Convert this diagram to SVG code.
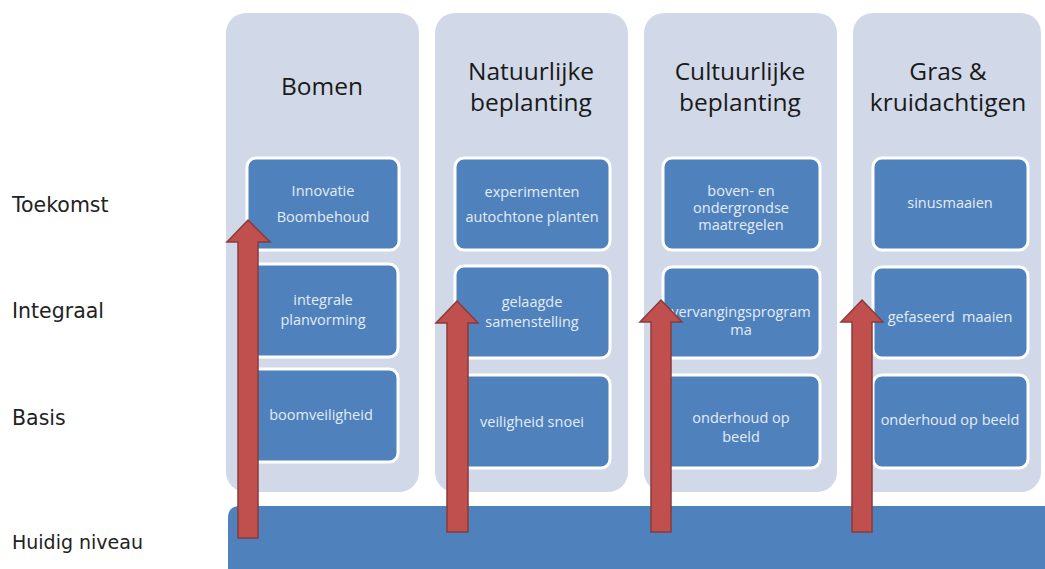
<svg xmlns="http://www.w3.org/2000/svg" width="1045" height="569" viewBox="0 0 1045 569">
<style>
.col{fill:#D1D9E8}
.box{fill:#4F81BD;stroke:#FFFFFF;stroke-width:3}
.hdr{font-family:"Open Sans","Liberation Sans",sans-serif;font-size:24.5px;fill:#1A1A1A;text-anchor:middle}
.bt{font-family:"Open Sans","Liberation Sans",sans-serif;font-size:14.5px;fill:#E4ECF6;text-anchor:middle}
.lbl{font-family:"DejaVu Sans","Liberation Sans",sans-serif;font-size:20.5px;fill:#222222}
.arr{fill:#C0504D;stroke:#8C3A38;stroke-width:1.5;stroke-linejoin:miter}
</style>
<rect width="1045" height="569" fill="#FFFFFF"/>
<g id="labels">
<text class="lbl" x="12" y="212">Toekomst</text>
<text class="lbl" x="12" y="318">Integraal</text>
<text class="lbl" x="12" y="425">Basis</text>
<text class="lbl" x="12" y="549" style="font-size:19px">Huidig niveau</text>
</g>
<g id="base">
<path d="M228,569 V518 Q228,506 240,506 H1045 V569 Z" fill="#4F81BD"/>
</g>
<g id="col-bomen">
<rect class="col" x="226" y="13" width="193" height="479" rx="20"/>
<text class="hdr" x="322" y="95">Bomen</text>
<g id="bomen-toekomst"><rect class="box" x="247" y="158" width="152" height="92" rx="9"/>
<text class="bt" x="323" y="196">Innovatie</text><text class="bt" x="323" y="222">Boombehoud</text></g>
<g id="bomen-integraal"><rect class="box" x="247" y="264" width="151" height="93" rx="9"/>
<text class="bt" x="323" y="305">integrale</text><text class="bt" x="323" y="325">planvorming</text></g>
<g id="bomen-basis"><rect class="box" x="247" y="369" width="151" height="93" rx="9"/>
<text class="bt" x="321" y="420">boomveiligheid</text></g>
</g>
<g id="col-natuurlijk">
<rect class="col" x="435" y="13" width="193" height="479" rx="20"/>
<text class="hdr" x="531" y="80">Natuurlijke</text>
<text class="hdr" x="531" y="111">beplanting</text>
<g id="nat-toekomst"><rect class="box" x="455" y="158" width="155" height="92" rx="9"/>
<text class="bt" x="532" y="197">experimenten</text><text class="bt" x="532" y="222">autochtone planten</text></g>
<g id="nat-integraal"><rect class="box" x="455" y="266" width="155" height="92" rx="9"/>
<text class="bt" x="532" y="307">gelaagde</text><text class="bt" x="532" y="327">samenstelling</text></g>
<g id="nat-basis"><rect class="box" x="455" y="375" width="155" height="93" rx="9"/>
<text class="bt" x="532" y="427">veiligheid snoei</text></g>
</g>
<g id="col-cultuurlijk">
<rect class="col" x="644" y="13" width="193" height="479" rx="20"/>
<text class="hdr" x="740" y="80">Cultuurlijke</text>
<text class="hdr" x="740" y="111">beplanting</text>
<g id="cul-toekomst"><rect class="box" x="663" y="158" width="157" height="92" rx="9"/>
<text class="bt" x="741" y="196">boven- en</text><text class="bt" x="741" y="213">ondergrondse</text><text class="bt" x="741" y="230">maatregelen</text></g>
<g id="cul-integraal"><rect class="box" x="663" y="267" width="157" height="91" rx="9"/>
<text class="bt" x="741" y="317">vervangingsprogram</text><text class="bt" x="741" y="335">ma</text></g>
<g id="cul-basis"><rect class="box" x="663" y="375" width="157" height="93" rx="9"/>
<text class="bt" x="741" y="423">onderhoud op</text><text class="bt" x="741" y="442">beeld</text></g>
</g>
<g id="col-gras">
<rect class="col" x="853" y="13" width="188" height="479" rx="20"/>
<text class="hdr" x="948" y="80">Gras &amp;</text>
<text class="hdr" x="948" y="111">kruidachtigen</text>
<g id="gras-toekomst"><rect class="box" x="873" y="158" width="155" height="92" rx="9"/>
<text class="bt" x="950" y="208">sinusmaaien</text></g>
<g id="gras-integraal"><rect class="box" x="873" y="267" width="155" height="91" rx="9"/>
<text class="bt" x="950" y="322" xml:space="preserve">gefaseerd  maaien</text></g>
<g id="gras-basis"><rect class="box" x="873" y="375" width="155" height="93" rx="9"/>
<text class="bt" x="950" y="425">onderhoud op beeld</text></g>
</g>
<g id="connectors">
<polygon class="arr" points="248,220 270,242 258,242 258,538 238,538 238,242 227,242"/>
<polygon class="arr" points="457,301 478,323 468,323 468,532 447,532 447,323 436,323"/>
<polygon class="arr" points="661,300 682,322 671,322 671,532 651,532 651,322 640,322"/>
<polygon class="arr" points="862,300 883,322 872,322 872,532 852,532 852,322 841,322"/>
</g>
</svg>
